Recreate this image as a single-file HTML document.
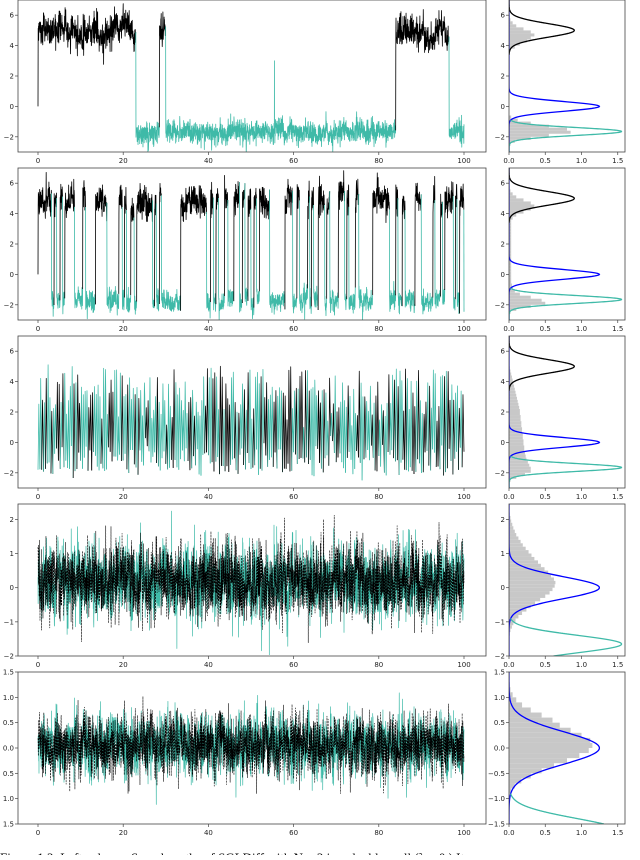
<!DOCTYPE html>
<html><head><meta charset="utf-8"><style>
html,body{margin:0;padding:0;background:#fff;}
svg text{font-family:"DejaVu Sans","Liberation Sans",sans-serif;font-size:7px;fill:#222;}
svg text.cap{font-family:"Liberation Serif",serif;font-size:13px;fill:#000;}
</style></head><body>
<svg id="fig" width="640" height="855" viewBox="0 0 640 855" xmlns="http://www.w3.org/2000/svg"></svg>
<script>
// ---------- data ----------
const panelTops = [0,168,336,504,672];
const yLims = [[-3,7],[-3,7],[-3,7],[-2.0,2.45],[-1.5,1.5]];
const yTicks = [[-2,0,2,4,6],[-2,0,2,4,6],[-2,0,2,4,6],[-2,-1,0,1,2],[-1.5,-1,-0.5,0,0.5,1,1.5]];
const yTickLabelsL = [["\u22122","0","2","4","6"],["\u22122","0","2","4","6"],["\u22122","0","2","4","6"],["\u22122","\u22121","0","1","2"],["1.5","1.0","0.5","0.0","0.5","1.0","1.5"]];
const yTickLabelsR = [["\u22122","0","2","4","6"],["\u22122","0","2","4","6"],["\u22122","0","2","4","6"],["\u22122","\u22121","0","1","2"],["\u22121.5","\u22121.0","\u22120.5","0.0","0.5","1.0","1.5"]];
const xTicks = [0,20,40,60,80,100];
const xTickLabels = ["0","20","40","60","80","100"];
const dTicks = [0,0.5,1,1.5];
const dTickLabels = ["0.0","0.5","1.0","1.5"];

const p1High = [[0,23],[28.5,30],[84,96.5]];
const p1Spikes = [[55.5,3.0]];
const p2High = [[0,3.2],[3.8,4.4],[5.2,5.8],[6.3,8.6],[10.5,11.2],[13.5,16.2],[19.0,19.8],[20.3,20.8],[21.8,22.6],[23.2,26.9],[27.4,27.8],[28.5,29.0],[33.5,39.6],[40.5,41.2],[41.8,42.4],[43.8,44.6],[46.0,47.3],[48.0,48.6],[49.3,50.0],[50.7,51.3],[52.0,54.4],[58.0,59.8],[60.8,61.4],[63.3,63.8],[64.2,64.7],[65.8,67.3],[67.8,68.5],[70.5,72.0],[72.5,73.0],[74.5,75.3],[78.6,82.5],[84.0,84.5],[85.5,86.2],[88.5,90.0],[92.7,93.2],[94.5,95.0],[95.5,97.5],[98.0,98.4],[99.0,100]];
const p3Peaks = [2.3,3.8,1.5,4.2,2.8,4.6,3.0,1.2,4.8,2.5,3.6,1.8,4.1,2.2,3.4,4.9,1.6,3.9,2.7,4.7,3.3,1.9,3.7,4.4,2.1,3.2,4.5,2.6,3.5,1.4,4.0,2.9,4.7,3.6,1.7,4.3,2.4,3.8,3.1,4.6,2.0,3.3,4.8,2.7,3.9,1.5,3.0,4.2,2.3,3.6,2.8,4.1,1.9,3.4,4.5,2.6,3.1,4.0,2.2,3.7,4.3,1.8,3.2,4.6,2.5,3.5,2.9,4.4,1.6,3.8,2.4,4.1,3.0,4.7,2.0,3.3,4.2,2.7,3.6,5.0,4.2,2.5,3.9,1.7,3.4,4.6,2.2,3.1,4.4,2.8,3.7,1.9,4.0,3.2,4.8,2.6,3.5,4.3,2.1,3.0];
const p3Troughs = [-1.8,-1.2,-0.4,-1.9,-0.8,-1.5,0.2,-1.7,-1.1,-2.0,-0.6,-1.4,-1.8,-0.2,-1.6,-1.0,-2.1,-0.9,-1.3,-1.7,-0.5,-1.9,-1.2,-0.7,-1.6,-2.0,-0.3,-1.4,-1.8,-1.0,-0.6,-1.7,-1.5,-2.2,-0.8,-1.3,-1.9,-0.4,-1.6,-1.1,-1.8,-0.7,-1.4,-2.0,-0.9,-1.5,-0.2,-1.7,-1.2,-1.9,-0.6,-1.3,-1.8,-1.0,-0.5,-1.6,-2.1,-0.8,-1.4,-1.7,-0.3,-1.2,-1.9,-0.9,-1.5,-1.8,-0.6,-1.3,-2.0,-1.1,-0.4,-1.7,-1.5,-0.8,-1.9,-1.2,-0.6,-1.6,-2.1,-1.0,-1.4,-1.8,-0.5,-1.3,-1.7,-0.9,-2.0,-1.1,-0.7,-1.6,-1.9,-0.4,-1.3,-1.8,-1.0,-1.5,-0.6,-1.7,-1.2,-1.6];
const p3SpikeCount = 230;
const p4Mean = 0.2, p4Sigma = 0.48;
const p5Mean = 0.05, p5Sigma = 0.27;

const histStart = [-2.6,-2.6,-2.6,-2.0,-1.5];
const histWidth = [0.2,0.2,0.2,0.1,0.1];
const hist1 = [0.02,0.08,0.3,0.55,0.85,0.8,0.55,0.3,0.12,0.03,0,0,0,0,0,0,0,0,0,0,0,0,0,0,0,0,0,0,0,0,0,0.02,0.08,0.15,0.25,0.3,0.35,0.3,0.2,0.1,0.05,0.02,0.01,0];
const hist2 = [0.02,0.1,0.3,0.5,0.45,0.3,0.15,0.08,0.05,0.04,0.03,0.03,0.03,0.03,0.03,0.03,0.03,0.03,0.03,0.03,0.03,0.03,0.03,0.03,0.03,0.03,0.03,0.03,0.03,0.03,0.03,0.05,0.1,0.2,0.3,0.35,0.3,0.2,0.1,0.05,0.02,0.01,0,0];
const hist3 = [0.02,0.1,0.22,0.3,0.3,0.28,0.26,0.24,0.23,0.22,0.21,0.21,0.2,0.2,0.19,0.19,0.18,0.18,0.17,0.17,0.16,0.16,0.15,0.15,0.14,0.13,0.12,0.11,0.1,0.09,0.08,0.07,0.06,0.05,0.04,0.03,0.02,0.01,0.005,0];
const hist4 = [0,0,0,0,0,0,0.01,0.02,0.04,0.06,0.09,0.13,0.18,0.24,0.3,0.36,0.43,0.5,0.56,0.6,0.63,0.64,0.62,0.58,0.54,0.49,0.44,0.4,0.35,0.31,0.27,0.23,0.19,0.16,0.13,0.1,0.08,0.06,0.045,0.03,0.02,0.01,0.005,0,0];
const hist5 = [0,0,0,0,0,0.01,0.03,0.08,0.17,0.3,0.45,0.62,0.8,0.97,1.1,1.15,1.12,1.0,0.85,0.7,0.6,0.45,0.3,0.18,0.1,0.05,0.02,0.01,0,0];
const hists = [hist1,hist2,hist3,hist4,hist5];

const compMeans = [5.0, 0.0, -1.65];
const compSigmas = [0.443, 0.32, 0.257];
const compMin = [3.4, -3, -3];
const compMax = [7, 7, -0.9];
const compColors = ["#000000","#0000ff","#3fbaa8"];

// ---------- geometry ----------
const PH = 152, LX0 = 18, LX1 = 486, RX0 = 509, RX1 = 625;
const TEAL = "#3fbaa8";
const NS = "http://www.w3.org/2000/svg";
const svg = document.getElementById('fig');
function X(t){ return 38 + t*4.26; }
function XR(d){ return RX0 + d*72.5; }
function Y(v,p){ const [a,b]=yLims[p]; return panelTops[p] + (b-v)/(b-a)*PH; }
function mk(tag, attrs, parent){ const e=document.createElementNS(NS,tag); for(const k in attrs) e.setAttribute(k,attrs[k]); (parent||svg).appendChild(e); return e; }
let seed = 12345;
function rng(){ seed|=0; seed=seed+0x6D2B79F5|0; let t=Math.imul(seed^seed>>>15,1|seed); t=t+Math.imul(t^t>>>7,61|t)^t; return ((t^t>>>14)>>>0)/4294967296; }
function gauss(){ let u=rng()||1e-9, v=rng(); return Math.sqrt(-2*Math.log(u))*Math.cos(2*Math.PI*v); }
function polyline(pts, p, color, w, g, dash){
  const pl = mk('polyline',{points:pts.map(q=>X(q[0]).toFixed(2)+','+Y(q[1],p).toFixed(2)).join(' '),fill:'none',stroke:color,'stroke-width':w,'stroke-linejoin':'round'},g);
  if(dash) pl.setAttribute('stroke-dasharray',dash);
  
  
  return pl;
}

function regimeSeries(p, highs, spikes){
  const g = mk('g',{'clip-path':'url(#clipL'+p+')'});
  
  
  const N=2500, dt=100/N; let sH=0, sL=0, fH=0, fL=0;
  const isHigh = t => highs.some(h=>t>=h[0]&&t<h[1]);
  let runs=[], cur=null, prev=[0,0];
  for(let i=0;i<=N;i++){
    const t=i*dt;
    sH += -2*sH*dt + 0.3*Math.sqrt(4*dt)*gauss();
    sL += -2*sL*dt + 0.15*Math.sqrt(4*dt)*gauss();
    fH += -25*fH*dt + 0.35*Math.sqrt(50*dt)*gauss();
    fL += -25*fL*dt + 0.25*Math.sqrt(50*dt)*gauss();
    const h=isHigh(t);
    let v = h ? 4.9+sH+fH : -1.72+sL+fL;
    if(i===0) v=0;
    if(!cur || cur.h!==h){ cur={h:h,pts:[prev]}; runs.push(cur); }
    cur.pts.push([t,v]);
    if(spikes) spikes.forEach(s=>{ if(t<s[0] && t+dt>=s[0]){ cur.pts.push([s[0],s[1]]); } });
    prev=[t,v];
  }
  runs.forEach(r=>polyline(r.pts,p,r.h?'#000':TEAL,0.8,g));
}

function spikeSeries(p){
  const g = mk('g',{'clip-path':'url(#clipL'+p+')'});
  
  
  const n=p3Peaks.length, m=p3SpikeCount, step=100/m;
  let prev=[0,p3Troughs[0]];
  for(let k=0;k<m;k++){
    const t0=k*step, tp=t0+step*0.45, t1=(k+1)*step;
    const tr=p3Troughs[(k*7)%n], pk=p3Peaks[(k*3)%n], nx=p3Troughs[((k+1)*7)%n];
    const pts=[prev];
    for(let j=1;j<=3;j++){ const f=j/3; pts.push([t0+(tp-t0)*f, tr+(pk-tr)*f+0.2*gauss()]); }
    for(let j=1;j<=3;j++){ const f=j/3; pts.push([tp+(t1-tp)*f, pk+(nx-pk)*f+0.2*gauss()]); }
    prev=pts[pts.length-1];
    polyline(pts,p,(rng()<0.4)?'#000':TEAL,0.75,g);
  }
}

function ouSeries(p, mean, sigma){
  const g = mk('g',{'clip-path':'url(#clipL'+p+')'});
  
  
  const N=3000, dt=100/N;
  [TEAL,'#000'].forEach((c,ci)=>{
    let s=0, f=0, pts=[];
    for(let i=0;i<=N;i++){
      s += -3*s*dt + 0.35*sigma*Math.sqrt(6*dt)*gauss();
      f += -30*f*dt + 0.75*sigma*Math.sqrt(60*dt)*gauss();
      pts.push([i*dt, mean+s+f]);
    }
    polyline(pts,p,c,ci?0.6:0.7,g,ci?'2 1':null);
  });
}

const defs = mk('defs',{});
panelTops.forEach((top,p)=>{
  const c1=mk('clipPath',{id:'clipL'+p},defs); mk('rect',{x:LX0,y:top,width:LX1-LX0,height:PH},c1);
  const c2=mk('clipPath',{id:'clipR'+p},defs); mk('rect',{x:RX0,y:top,width:RX1-RX0,height:PH},c2);
});

panelTops.forEach((top,p)=>{
  const gr = mk('g',{});
  
  
  const hg = mk('g',{'clip-path':'url(#clipR'+p+')'},gr);
  
  
  hists[p].forEach((v,i)=>{
    if(v<=0) return;
    const y0=histStart[p]+i*histWidth[p], y1=y0+histWidth[p];
    const r = mk('rect',{x:XR(0),y:Y(y1,p),width:XR(v)-XR(0),height:Y(y0,p)-Y(y1,p),fill:'#c8c8c8'},hg);
    
    
  });
  const cg = mk('g',{'clip-path':'url(#clipR'+p+')'},gr);
  
  
  [1,2,0].forEach(ci=>{
    const lo=Math.max(compMin[ci],yLims[p][0]), hi=Math.min(compMax[ci],yLims[p][1]);
    if(hi<=lo) return;
    const pts=[];
    for(let k=0;k<=300;k++){ const y=lo+(hi-lo)*k/300; const d=Math.exp(-0.5*((y-compMeans[ci])/compSigmas[ci])**2)/(compSigmas[ci]*Math.sqrt(2*Math.PI)); pts.push(XR(d).toFixed(2)+','+Y(y,p).toFixed(2)); }
    const pl=mk('polyline',{points:pts.join(' '),fill:'none',stroke:compColors[ci],'stroke-width':1.3},cg);
    
    
  });
  if(p===0) regimeSeries(0,p1High,p1Spikes);
  if(p===1) regimeSeries(1,p2High,null);
  if(p===2) spikeSeries(2);
  if(p===3) ouSeries(3,p4Mean,p4Sigma);
  if(p===4) ouSeries(4,p5Mean,p5Sigma);
  const fl=mk('rect',{x:LX0,y:top,width:LX1-LX0,height:PH,fill:'none',stroke:'#444','stroke-width':0.8});
  
  
  const fr=mk('rect',{x:RX0,y:top,width:RX1-RX0,height:PH,fill:'none',stroke:'#444','stroke-width':0.8});
  
  
  const tg = mk('g',{});
  
  
  yTicks[p].forEach((v,i)=>{
    const y=Y(v,p);
    mk('line',{x1:LX0-3,x2:LX0,y1:y,y2:y,stroke:'#444','stroke-width':0.7},tg);
    const t1=mk('text',{x:LX0-4,y:y+2.5,'text-anchor':'end'},tg); t1.textContent=yTickLabelsL[p][i];
    
    
    mk('line',{x1:RX0-3,x2:RX0,y1:y,y2:y,stroke:'#444','stroke-width':0.7},tg);
    const t2=mk('text',{x:RX0-4,y:y+2.5,'text-anchor':'end'},tg); t2.textContent=yTickLabelsR[p][i];
    
    
  });
  const by=top+PH;
  xTicks.forEach((v,i)=>{
    mk('line',{x1:X(v),x2:X(v),y1:by,y2:by+3,stroke:'#444','stroke-width':0.7},tg);
    const t=mk('text',{x:X(v),y:by+11,'text-anchor':'middle'},tg); t.textContent=xTickLabels[i];
    
    
  });
  dTicks.forEach((v,i)=>{
    mk('line',{x1:XR(v),x2:XR(v),y1:by,y2:by+3,stroke:'#444','stroke-width':0.7},tg);
    const t=mk('text',{x:XR(v),y:by+11,'text-anchor':'middle'},tg); t.textContent=dTickLabels[i];
    
    
  });
});
const cap=mk('text',{x:0,y:862,'class':'cap'});
cap.textContent="Figure 1.2: Left column: Sample paths of SGLDiff with N = 2 in a double-well (λ = 0.) It";


</script>
</body></html>
